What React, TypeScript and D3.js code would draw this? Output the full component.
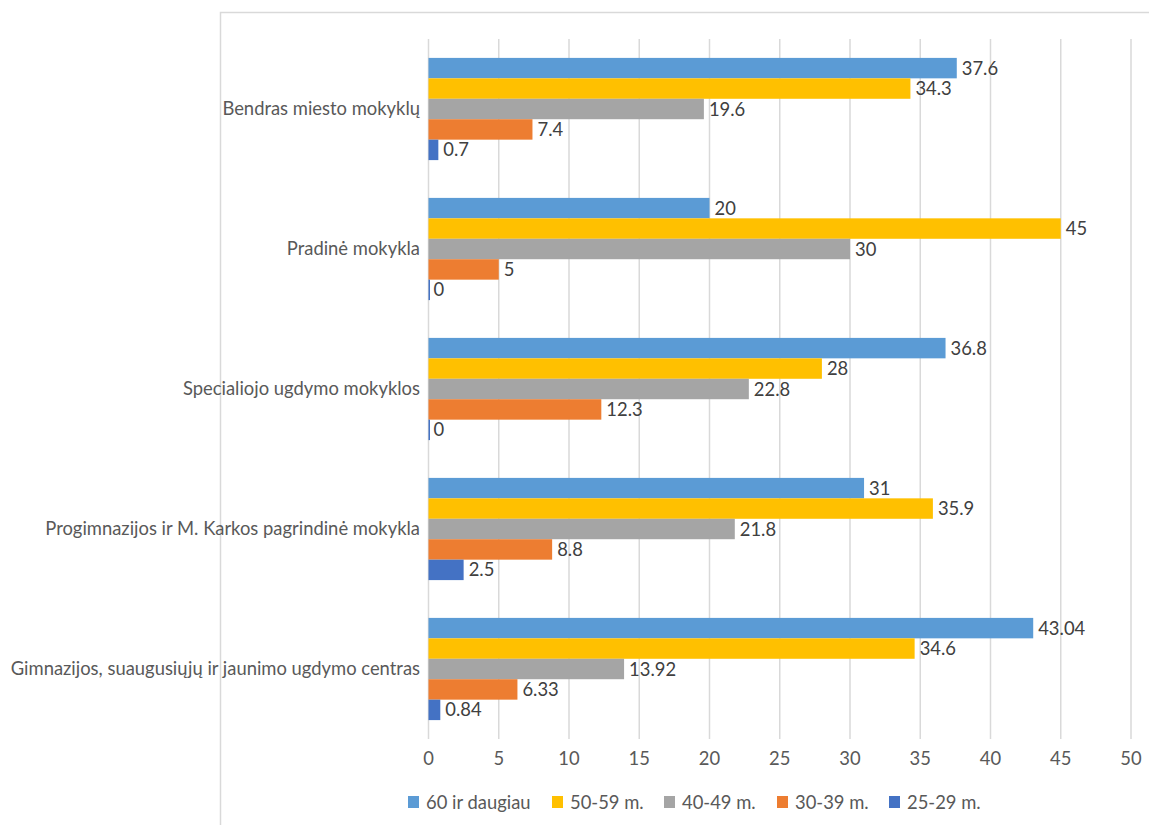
import * as d3 from 'd3';
import React, { useEffect, useRef } from 'react';

const categories = [
  'Bendras miesto mokyklų',
  'Pradinė mokykla',
  'Specialiojo ugdymo mokyklos',
  'Progimnazijos ir M. Karkos pagrindinė mokykla',
  'Gimnazijos, suaugusiųjų ir jaunimo ugdymo centras',
];
const seriesNames = ['60 ir daugiau', '50-59 m.', '40-49 m.', '30-39 m.', '25-29 m.'];
const seriesColors = ['#5B9BD5', '#FFC000', '#A5A5A5', '#ED7D31', '#4472C4'];
const age60 = [37.6, 20, 36.8, 31, 43.04];
const age50 = [34.3, 45, 28, 35.9, 34.6];
const age40 = [19.6, 30, 22.8, 21.8, 13.92];
const age30 = [7.4, 5, 12.3, 8.8, 6.33];
const age25 = [0.7, 0, 0, 2.5, 0.84];
const seriesValues = [age60, age50, age40, age30, age25];
const xTicks = [0, 5, 10, 15, 20, 25, 30, 35, 40, 45, 50];

const width = 1149;
const height = 825;
const plot = { left: 428.5, right: 1131, top: 39, bottom: 739 };
const font = 'Lato, "Noto Sans", sans-serif';
const fontSize = 18.4;

const App: React.FC = () => {
  const svgRef = useRef<SVGSVGElement>(null);
  useEffect(() => {
    if (!svgRef.current) return;
    const svg = d3.select(svgRef.current);
    svg.selectAll('*').remove();

    // chart border (only top and left visible)
    svg.append('path')
      .attr('d', `M220.5,${height} V12.5 H${width}`)
      .attr('fill', 'none')
      .attr('stroke', '#d9d9d9')
      .attr('stroke-width', 1.5);

    const x = d3.scaleLinear().domain([0, 50]).range([plot.left, plot.right]);
    const y0 = d3.scaleBand<string>().domain(categories).range([plot.top, plot.bottom]).paddingInner(0.27).paddingOuter(0.135);
    const y1 = d3.scaleBand<string>().domain(seriesNames).range([0, y0.bandwidth()]);

    // gridlines
    svg.append('g')
      .selectAll('line')
      .data(xTicks)
      .enter()
      .append('line')
      .attr('x1', (d) => x(d))
      .attr('x2', (d) => x(d))
      .attr('y1', plot.top)
      .attr('y2', plot.bottom)
      .attr('stroke', '#d9d9d9')
      .attr('stroke-width', 1.5);

    // x axis labels
    svg.append('g')
      .selectAll('text')
      .data(xTicks)
      .enter()
      .append('text')
      .attr('x', (d) => x(d))
      .attr('y', 765)
      .attr('text-anchor', 'middle')
      .attr('font-family', font)
      .attr('font-size', fontSize)
      .attr('fill', '#595959')
      .text((d) => d);

    // category labels
    svg.append('g')
      .selectAll('text')
      .data(categories)
      .enter()
      .append('text')
      .attr('x', 420)
      .attr('y', (d) => y0(d)! + y0.bandwidth() / 2)
      .attr('dy', '0.35em')
      .attr('text-anchor', 'end')
      .attr('font-family', font)
      .attr('font-size', fontSize)
      .attr('fill', '#595959')
      .text((d) => d);

    const groups = svg.append('g')
      .selectAll('g')
      .data(categories)
      .enter()
      .append('g')
      .attr('transform', (d) => `translate(0,${y0(d)})`);

    seriesNames.forEach((s, si) => {
      groups.append('rect')
        .attr('x', x(0))
        .attr('y', y1(s)!)
        .attr('width', (_, ci) => Math.max(1.5, x(seriesValues[si][ci]) - x(0)))
        .attr('height', y1.bandwidth())
        .attr('fill', seriesColors[si]);
      groups.append('text')
        .attr('x', (_, ci) => x(seriesValues[si][ci]) + 5)
        .attr('y', y1(s)! + y1.bandwidth() / 2)
        .attr('dy', '0.36em')
        .attr('font-family', font)
        .attr('font-size', fontSize)
        .attr('fill', '#404040')
        .text((_, ci) => seriesValues[si][ci]);
    });

    // legend
    const legendX = [408, 552, 664, 777, 889];
    const legend = svg.append('g')
      .selectAll('g')
      .data(seriesNames)
      .enter()
      .append('g')
      .attr('transform', (_, i) => `translate(${legendX[i]},802)`);
    legend.append('rect')
      .attr('x', 0)
      .attr('y', -6)
      .attr('width', 11)
      .attr('height', 12)
      .attr('fill', (_, i) => seriesColors[i]);
    legend.append('text')
      .attr('x', 18)
      .attr('y', 0)
      .attr('dy', '0.36em')
      .attr('font-family', font)
      .attr('font-size', fontSize)
      .attr('fill', '#595959')
      .text((d) => d);
  }, []);
  return (
    <svg
      ref={svgRef}
      width={width}
      height={height}
      viewBox={`0 0 ${width} ${height}`}
      style={{ display: 'block', position: 'absolute', left: 0, top: 0, background: '#fff' }}
    />
  );
};

export default App;
